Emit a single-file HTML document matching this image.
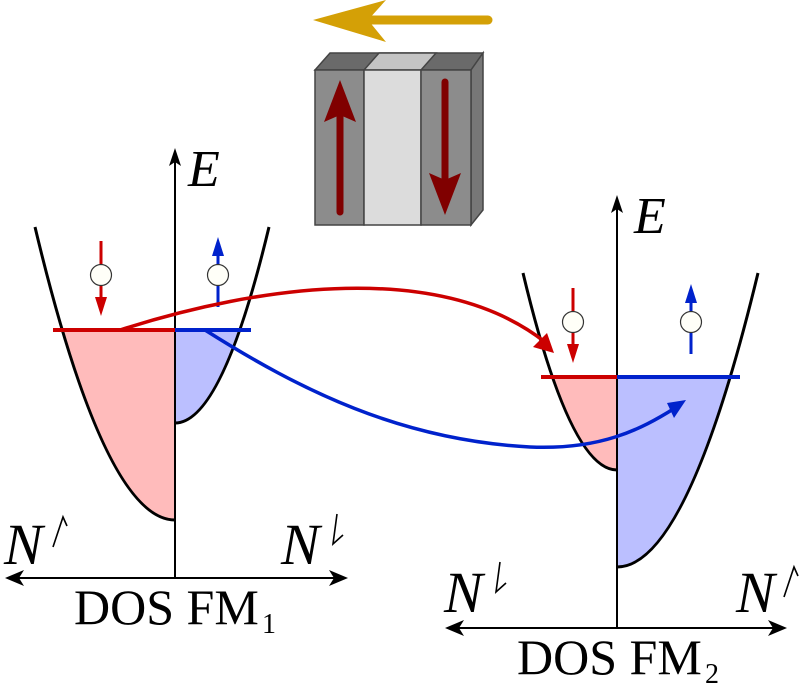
<!DOCTYPE html>
<html><head><style>
html,body{margin:0;padding:0;background:#fff;}
svg{display:block;}
text{font-family:"Liberation Serif",serif;}
</style></head><body>
<svg width="800" height="683" viewBox="0 0 800 683" xmlns="http://www.w3.org/2000/svg">
<defs>
<clipPath id="c1"><rect x="0" y="330" width="400" height="300"/></clipPath>
<clipPath id="c2"><rect x="400" y="377" width="400" height="300"/></clipPath>
</defs>
<!-- gold arrow -->
<line x1="488" y1="20" x2="360" y2="20" stroke="#d4a006" stroke-width="9" stroke-linecap="round"/>
<path d="M313,20 L386,0 L368,20 L386,42 Z" fill="#d4a006"/>
<!-- box -->
<polygon points="315,70 330,53 483,53 471,70" fill="#6a6a6a" stroke="#444" stroke-width="1.5"/>
<polygon points="364,70 379,53 436,53 421,70" fill="#c4c4c4" stroke="#444" stroke-width="1.5"/>
<polygon points="471,70 483,53 483,210 471,225" fill="#777" stroke="#444" stroke-width="1.5"/>
<rect x="315" y="70" width="49" height="155" fill="#8c8c8c" stroke="#444" stroke-width="1.5"/>
<rect x="364" y="70" width="57" height="155" fill="#dcdcdc" stroke="#444" stroke-width="1.5"/>
<rect x="421" y="70" width="50" height="155" fill="#8c8c8c" stroke="#444" stroke-width="1.5"/>
<line x1="340" y1="212" x2="340" y2="115" stroke="#800000" stroke-width="7" stroke-linecap="round"/>
<path d="M340,80 L356,122 L340,115 L324,122 Z" fill="#800000"/>
<line x1="445" y1="82" x2="445" y2="180" stroke="#800000" stroke-width="7" stroke-linecap="round"/>
<path d="M445,215 L461,173 L445,180 L429,173 Z" fill="#800000"/>

<!-- Left DOS -->
<path d="M175,520 Q105,520 35,227 L175,227 Z" fill="#ffbbbb" clip-path="url(#c1)"/>
<path d="M175,423 Q222,423 269,227 L175,227 Z" fill="#bbbfff" clip-path="url(#c1)"/>
<path d="M175,520 Q105,520 35,227" fill="none" stroke="#000" stroke-width="3"/>
<path d="M175,423 Q222,423 269,227" fill="none" stroke="#000" stroke-width="3"/>
<line x1="175" y1="155" x2="175" y2="578" stroke="#000" stroke-width="2"/>
<path d="M175,148 L181,166 L175,162 L169,166 Z" fill="#000"/>
<line x1="12" y1="578" x2="340" y2="578" stroke="#000" stroke-width="2"/>
<path d="M5,578 L24,570 L19,578 L24,586 Z" fill="#000"/>
<path d="M348,578 L329,570 L334,578 L329,586 Z" fill="#000"/>
<line x1="53" y1="330" x2="175" y2="330" stroke="#cc0000" stroke-width="4"/>
<line x1="175" y1="330" x2="251" y2="330" stroke="#0022cc" stroke-width="4"/>
<text x="188" y="186" font-size="52" font-style="italic">E</text>
<text x="4" y="564" font-size="58" font-style="italic">N</text>
<text x="281" y="564" font-size="58" font-style="italic">N</text>
<g stroke="#000" stroke-width="1.6" fill="none">
<path d="M53,547 L63,517 L67,526"/>
<path d="M337,514 L333,544 L343,535"/>
</g>
<text x="74" y="624" font-size="50">DOS FM</text>
<text x="262" y="633" font-size="28">1</text>

<!-- Right DOS -->
<path d="M617,470 Q570,470 523,273 L617,273 Z" fill="#ffbbbb" clip-path="url(#c2)"/>
<path d="M617,567 Q687,567 758,273 L617,273 Z" fill="#bbbfff" clip-path="url(#c2)"/>
<path d="M617,470 Q570,470 523,273" fill="none" stroke="#000" stroke-width="3"/>
<path d="M617,567 Q687,567 758,273" fill="none" stroke="#000" stroke-width="3"/>
<line x1="617" y1="202" x2="617" y2="628" stroke="#000" stroke-width="2"/>
<path d="M617,195 L623,213 L617,209 L611,213 Z" fill="#000"/>
<line x1="452" y1="628" x2="780" y2="628" stroke="#000" stroke-width="2"/>
<path d="M445,628 L464,620 L459,628 L464,636 Z" fill="#000"/>
<path d="M787,628 L768,620 L773,628 L768,636 Z" fill="#000"/>
<line x1="541" y1="377" x2="617" y2="377" stroke="#cc0000" stroke-width="4"/>
<line x1="617" y1="377" x2="740" y2="377" stroke="#0022cc" stroke-width="4"/>
<text x="634" y="233" font-size="52" font-style="italic">E</text>
<text x="444" y="612" font-size="58" font-style="italic">N</text>
<text x="736" y="612" font-size="58" font-style="italic">N</text>
<g stroke="#000" stroke-width="1.6" fill="none">
<path d="M500,562 L496,592 L506,583"/>
<path d="M784,597 L794,567 L798,576"/>
</g>
<text x="517" y="674" font-size="50">DOS FM</text>
<text x="705" y="683" font-size="28">2</text>

<!-- spins -->
<g stroke-width="3">
<line x1="101" y1="241" x2="101" y2="300" stroke="#cc0000"/>
<path d="M101,316 L95,297 L107,297 Z" fill="#cc0000"/>
<line x1="218" y1="252" x2="218" y2="307" stroke="#0022cc"/>
<path d="M218,237 L212,256 L224,256 Z" fill="#0022cc"/>
<line x1="573" y1="288" x2="573" y2="347" stroke="#cc0000"/>
<path d="M573,363 L567,344 L579,344 Z" fill="#cc0000"/>
<line x1="691" y1="299" x2="691" y2="354" stroke="#0022cc"/>
<path d="M691,284 L685,303 L697,303 Z" fill="#0022cc"/>
</g>
<g fill="#fffff8" stroke="#333" stroke-width="1.2">
<circle cx="101" cy="275" r="10.5"/><circle cx="218" cy="275" r="10.5"/>
<circle cx="573" cy="322" r="10.5"/><circle cx="691" cy="322" r="10.5"/>
</g>

<!-- connectors -->
<path d="M120,330 C260,285 440,260 545,342" fill="none" stroke="#cc0000" stroke-width="3.5"/>
<path d="M554,353 L533,347 L547,333 Z" fill="#cc0000"/>
<path d="M205,330 C300,390 400,440 530,447 C600,450 640,430 675,408" fill="none" stroke="#0022cc" stroke-width="3.5"/>
<path d="M686,400 L674,418 L667,403 Z" fill="#0022cc"/>
</svg>
</body></html>
